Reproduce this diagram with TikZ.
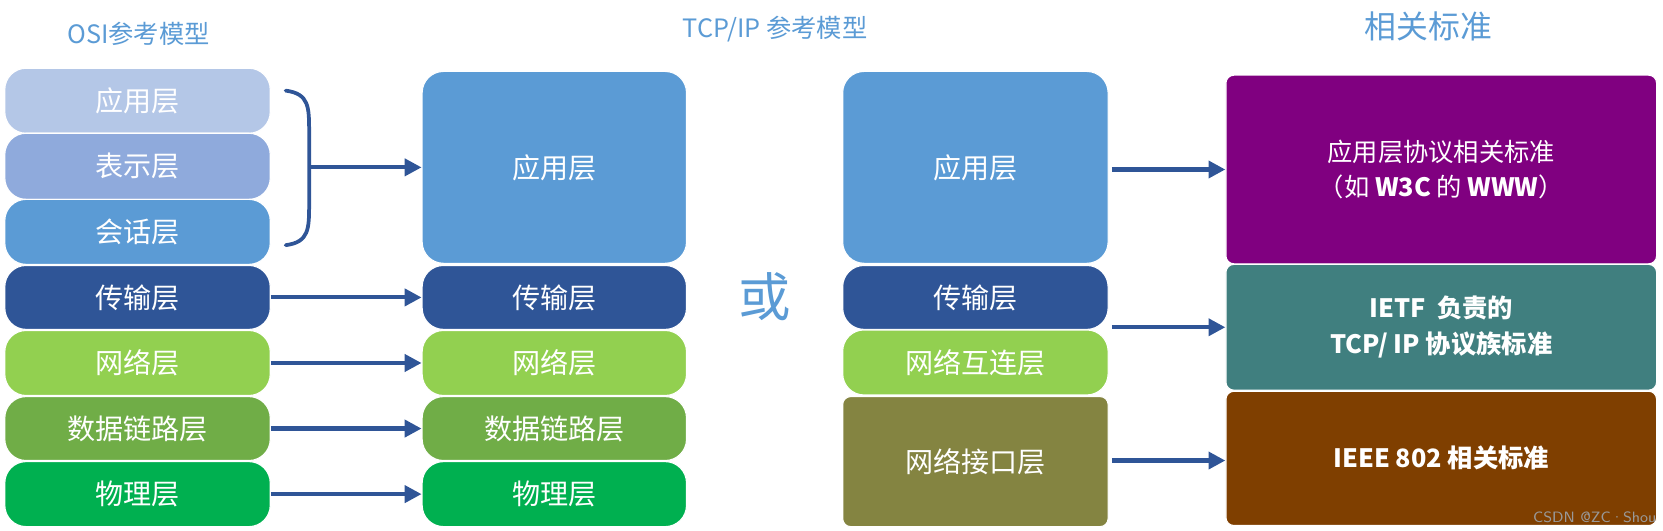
\documentclass[tikz,border=0pt]{standalone}
\usepackage{fontspec}
\setmainfont{Carlito}
\newfontfamily\cjk{Noto Sans CJK SC}
\usetikzlibrary{arrows.meta,decorations.pathreplacing}
\definecolor{tblue}{HTML}{5B9BD5}
\definecolor{c1}{HTML}{B4C7E7}
\definecolor{c2}{HTML}{8FAADC}
\definecolor{c3}{HTML}{5B9BD5}
\definecolor{c4}{HTML}{2F5597}
\definecolor{c5}{HTML}{92D050}
\definecolor{c6}{HTML}{70AD47}
\definecolor{c7}{HTML}{00B050}
\definecolor{olive}{HTML}{848441}
\definecolor{purp}{HTML}{800080}
\definecolor{teal2}{HTML}{407F7F}
\definecolor{brown2}{HTML}{7F3F00}
\begin{document}
\begin{tikzpicture}[x=0.02cm,y=-0.02cm,
  layer/.style={rounded corners=0.4cm,draw=white,line width=0.6pt,text=white,font=\cjk\fontsize{15}{18}\selectfont,inner sep=0pt},
  stdbox/.style={draw=white,line width=0.6pt,text=white,font=\cjk\bfseries\fontsize{13.5}{19}\selectfont,align=center,rounded corners=0.15cm},
  conn/.style={draw=c4,line width=2.2pt,-{Triangle[length=9pt,width=9pt]}},
  title/.style={text=tblue,font=\cjk\fontsize{13.5}{16}\selectfont}]
\useasboundingbox (0,0) rectangle (1560,498);
\newcommand{\lay}[6]{\fill[#5,rounded corners=0.4cm] (#1,#2) rectangle (#3,#4); \node[text=white,font=\cjk\fontsize{15}{18}\selectfont] (#6) at ({(#1+#3)/2},{(#2+#4)/2}) {};}
% titles
\node[title] (t1) at (130,32) {OSI参考模型};
\node[title] (t2) at (727,27) {TCP/IP 参考模型};
\node[title,font=\cjk\fontsize{17}{20}\selectfont] (t3) at (1340,25) {相关标准};
% OSI
\foreach \n/\ya/\yb/\c/\t in {o1/64/125/c1/应用层,o2/125/187/c2/表示层,o3/187/248/c3/会话层,o4/249/309/c4/传输层,o5/310/371/c5/网络层,o6/372/432/c6/数据链路层,o7/433/494/c7/物理层}{
  \node[layer,fill=\c,minimum width=249*0.02cm,minimum height={(\yb-\ya)*0.02cm}] (\n) at (129,{(\ya+\yb)/2}) {\t};
}
% TCP/IP
\node[layer,fill=c3,minimum width=248*0.02cm,minimum height=180*0.02cm] (p1) at (520,157) {应用层};
\foreach \n/\ya/\yb/\c/\t in {p2/249/309/c4/传输层,p3/310/371/c5/网络层,p4/372/432/c6/数据链路层,p5/433/494/c7/物理层}{
  \node[layer,fill=\c,minimum width=248*0.02cm,minimum height={(\yb-\ya)*0.02cm}] (\n) at (520,{(\ya+\yb)/2}) {\t};
}
% third column
\node[layer,fill=c3,minimum width=249*0.02cm,minimum height=180*0.02cm] (q1) at (915,157) {应用层};
\node[layer,fill=c4,minimum width=249*0.02cm,minimum height=60*0.02cm] (q2) at (915,279) {传输层};
\node[layer,fill=c5,minimum width=249*0.02cm,minimum height=61*0.02cm] (q3) at (915,340) {网络互连层};
\node[layer,fill=olive,rounded corners=0.15cm,minimum width=249*0.02cm,minimum height=122*0.02cm] (q4) at (915,433) {网络接口层};
% or
\node[text=tblue,font=\cjk\fontsize{28}{30}\selectfont] (or) at (717,278) {或};
% standards
\node[stdbox,fill=purp,minimum width=404*0.02cm,minimum height=177*0.02cm,font=\cjk\fontsize{13.5}{19}\selectfont] (s1) at (1352,159) {应用层协议相关标准\\（如 \textbf{W3C} 的 \textbf{WWW}）};
\node[stdbox,fill=teal2,minimum width=404*0.02cm,minimum height=118*0.02cm] (s2) at (1352,307) {IETF\ \ 负责的\\TCP/ IP 协议族标准};
\node[stdbox,fill=brown2,minimum width=404*0.02cm,minimum height=126*0.02cm] (s3) at (1352,430) {IEEE 802 相关标准};
% brace
\coordinate (b1) at (268,85);
\coordinate (b2) at (268,230);
\coordinate (bm) at (290,157);
\draw[c4,line width=2pt,line cap=round] (b1) .. controls (290,88) and (290,100) .. (290,125) -- (290,190) .. controls (290,215) and (290,227) .. (b2);
\draw[conn] (bm) -- (p1.west|-bm);
\draw[conn] (o4.east) -- (p2.west);
\draw[conn] (o5.east) -- (p3.west);
\draw[conn] (o6.east) -- (p4.west);
\draw[conn] (o7.east) -- (p5.west);
\coordinate (a1) at (1043,159);
\coordinate (a2) at (1043,307);
\coordinate (a3) at (1043,432);
\draw[conn] (a1) -- (a1-|s1.west);
\draw[conn] (a2) -- (a2-|s2.west);
\draw[conn] (a3) -- (a3-|s3.west);
\node[text=gray!80,font=\sffamily\fontsize{8}{9}\selectfont,anchor=east] (wm) at (1560,485) {CSDN @ZC·Shou};
\end{tikzpicture}
\end{document}
